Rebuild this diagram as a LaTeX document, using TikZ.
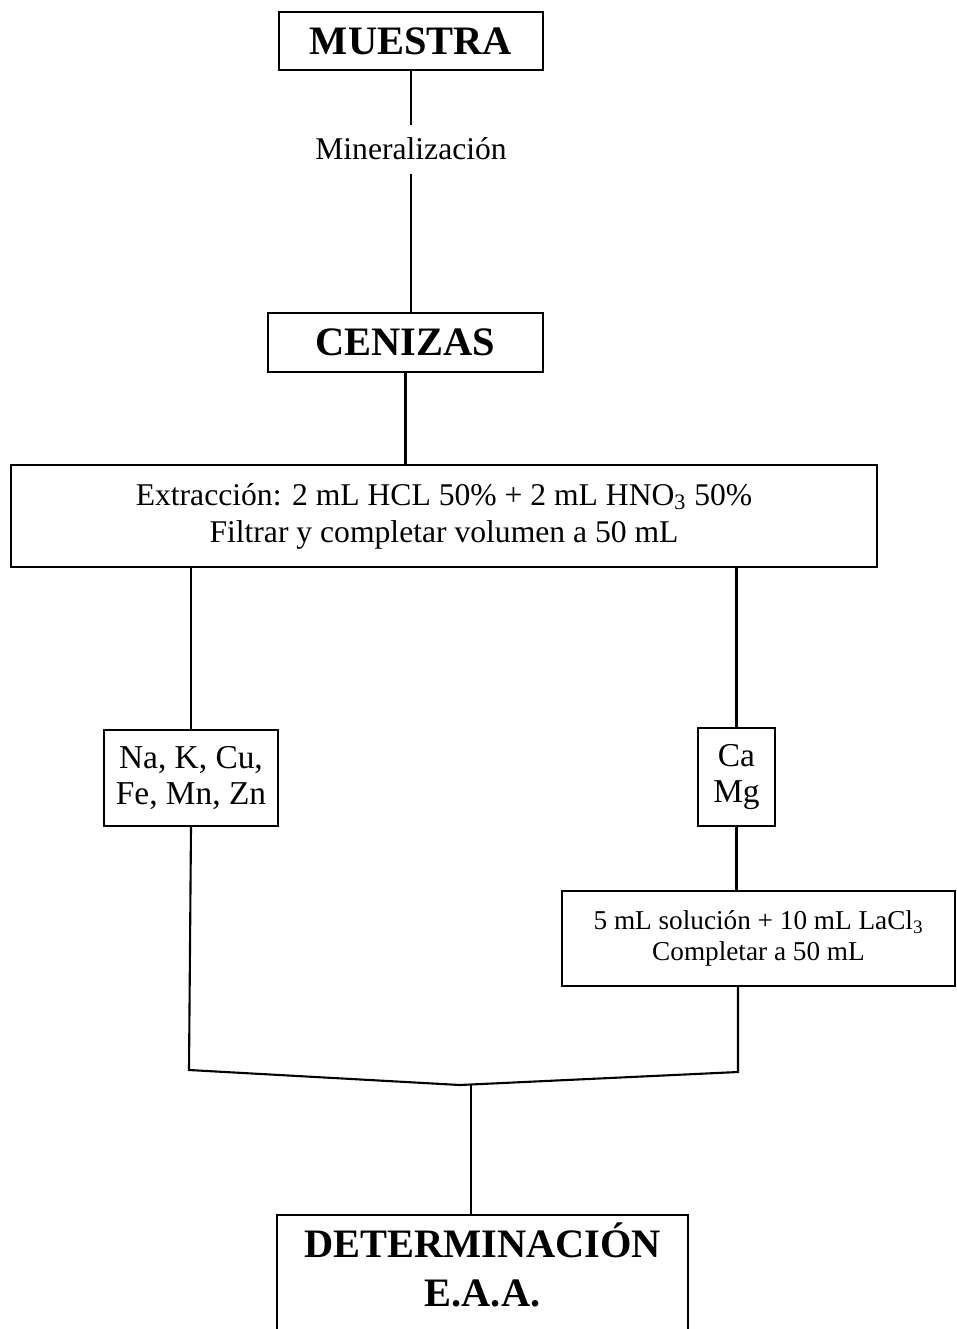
\documentclass[tikz,border=0pt]{standalone}
\usepackage{fontspec}
\setmainfont{Liberation Serif}
\usetikzlibrary{positioning}

\tikzset{
    caja/.style={draw, line width=1.2pt, rectangle, align=center, inner sep=0pt},
    titulo/.style={font=\fontsize{23}{28}\selectfont\bfseries},
    texto/.style={font=\fontsize{18}{21}\selectfont},
}

\begin{document}
\begin{tikzpicture}[x=0.02cm, y=-0.02cm, line width=1.2pt]
    \clip (0, 0) rectangle (957, 1329);
    % cajas principales
    \node (muestra) [caja, titulo, minimum width=5.28cm, minimum height=1.16cm] at (411, 41) {MUESTRA};
    \node (mineral) [texto, inner xsep=2pt, inner ysep=7pt] at (411, 149) {Mineralización};
    \node (cenizas) [caja, titulo, minimum width=5.5cm, minimum height=1.18cm] at (405.5, 342.5) {CENIZAS};
    \node (extr) [caja, texto, minimum width=17.32cm, minimum height=2.04cm] at (444, 516)
        {Extracción: 2 mL HCL 50\% + 2 mL HNO\textsubscript{3} 50\%\\Filtrar y completar volumen a 50 mL};
    \node (izq) [caja, font=\fontsize{19}{21}\selectfont, minimum width=3.48cm, minimum height=1.92cm] at (191, 778)
        {Na, K, Cu,\\Fe, Mn, Zn};
    \node (camg) [caja, font=\fontsize{19}{21}\selectfont, minimum width=1.54cm, minimum height=1.96cm] at (736.5, 777)
        {Ca\\Mg};
    \node (sol) [caja, font=\fontsize{15.5}{18}\selectfont, minimum width=7.86cm, minimum height=1.9cm] at (758.5, 938.5)
        {5 mL solución + 10 mL LaCl\textsubscript{3}\\Completar a 50 mL};
    \node (det) [caja, titulo, minimum width=8.22cm, minimum height=2.4cm, text depth=12pt] at (482.5, 1275)
        {DETERMINACIÓN\\E.A.A.};
    % uniones
    \coordinate (codoI) at (189, 1070);
    \coordinate (union) at (460, 1085);
    \coordinate (codoD) at (738, 1072);
    \coordinate (bajada) at (471, 1085);
    \draw (mineral.north |- muestra.south) -- (mineral.north);
    \draw (mineral.south) -- (mineral.south |- cenizas.north);
    \draw (cenizas.south) -- (cenizas.south |- extr.north);
    \draw (extr.south -| izq.north) -- (izq.north);
    \draw (extr.south -| camg.north) -- (camg.north);
    \draw (camg.south) -- (camg.south |- sol.north);
    \draw (izq.south) -- (codoI) -- (union) -- (codoD) -- (codoD |- sol.south);
    \draw (bajada) -- (bajada |- det.north);
\end{tikzpicture}
\end{document}
